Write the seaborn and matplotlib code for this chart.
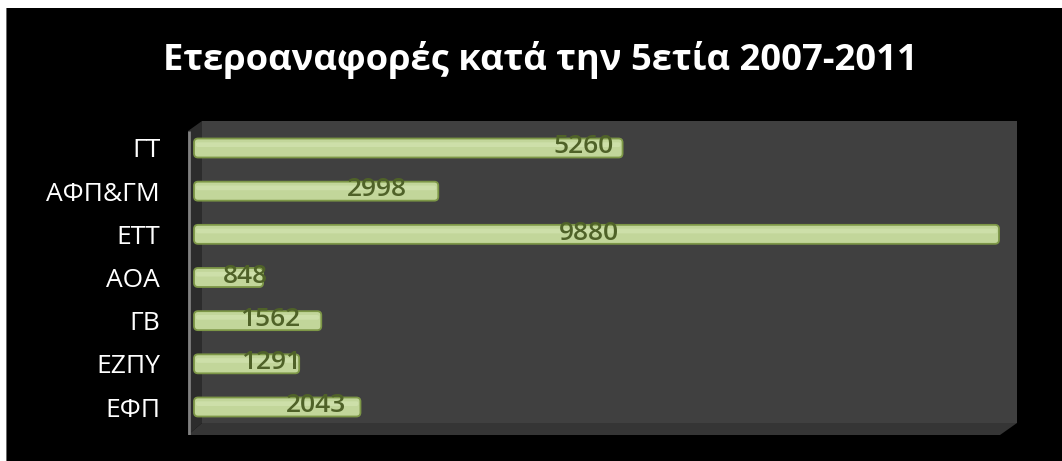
import numpy as np
import pandas as pd
import seaborn as sns
import matplotlib.pyplot as plt
from matplotlib.patches import Rectangle, Polygon, FancyBboxPatch

# Data
categories = ['ΓΤ', 'ΑΦΠ&ΓΜ', 'ΕΤΤ', 'ΑΟΑ', 'ΓΒ', 'ΕΖΠΥ', 'ΕΦΠ']
values = [5260, 2998, 9880, 848, 1562, 1291, 2043]
title = 'Ετεροαναφορές κατά την 5ετία 2007-2011'

df = pd.DataFrame({'cat': categories, 'val': values})

sns.set_style('dark')
plt.rcParams['font.family'] = ['Open Sans', 'DejaVu Sans']

W, H = 1062, 461
fig = plt.figure(figsize=(W / 100, H / 100), dpi=100)
fig.patch.set_facecolor('white')

# black background panel with thin white margin top/left
fig.patches.append(Rectangle((6 / W, 0), 1 - 6 / W, 1 - 8 / H, transform=fig.transFigure,
                             facecolor='black', edgecolor='none', zorder=-2))
fig.patches.append(Rectangle((6 / W, 0), 1.2 / W, 1 - 8 / H, transform=fig.transFigure,
                             facecolor='#6a6a6a', edgecolor='none', zorder=-1))

# axes box in pixels
x0, x1, ytop, ybot = 188, 1017, 121, 435
ax = fig.add_axes([x0 / W, (H - ybot) / H, (x1 - x0) / W, (ybot - ytop) / H])
ax.set_zorder(1)
ax.set_facecolor('black')


def px(x, y):
    return ((x - x0) / (x1 - x0), (ybot - y) / (ybot - ytop))


# fake 3D walls
back = Polygon([px(202, 121), px(1017, 121), px(1017, 423), px(202, 423)], closed=True,
               transform=ax.transAxes, facecolor='#404040', edgecolor='none', zorder=0)
side = Polygon([px(188, 131), px(202, 121), px(202, 423), px(188, 435)], closed=True,
               transform=ax.transAxes, facecolor='#2c2c2c', edgecolor='none', zorder=0)
floor = Polygon([px(188, 435), px(202, 423), px(1017, 423), px(1000, 435)], closed=True,
                transform=ax.transAxes, facecolor='#353535', edgecolor='none', zorder=0)
for p in (back, side, floor):
    ax.add_patch(p)
ax.plot([0.0015, 0.0015], [0, px(188, 131)[1]], transform=ax.transAxes,
        color='#808080', lw=2, zorder=1, solid_capstyle='butt')

sns.barplot(data=df, x='val', y='cat', orient='h', width=0.44, color='#c4d79b',
            saturation=1, ax=ax, zorder=3)

scale = (999 - 194) / 9880
ax.set_xlim((188 - 194) / scale, (1017 - 194) / scale)
ax.set_ylim(6 + (435 - 407) / 43.17, -(148 - 121) / 43.17)

# swap the flat bars for rounded ones with the same bounds
rx, ry = 4 / scale, 4 / 43.17
for bar in list(ax.patches):
    if not isinstance(bar, Rectangle) or bar.get_width() <= 0:
        continue
    bx, by, bw, bh = bar.get_x(), bar.get_y(), bar.get_width(), bar.get_height()
    bar.set_visible(False)
    ax.add_patch(FancyBboxPatch((bx, by), bw, bh,
                                boxstyle=f'round,pad=0,rounding_size={rx}',
                                mutation_aspect=ry / rx, facecolor='#c2d69a',
                                edgecolor='#7d9747', linewidth=1.3, zorder=3))
    ax.add_patch(FancyBboxPatch((bx + rx * 0.5, by + bh * 0.2), bw - rx, bh * 0.25,
                                boxstyle=f'round,pad=0,rounding_size={rx * 0.5}',
                                mutation_aspect=ry / rx, facecolor='#cddfa9',
                                edgecolor='none', zorder=3))

# value labels (positions follow the original's 3D placement)
label_frac = [0.91, 0.75, 0.49, 0.74, 0.60, 0.73, 0.73]
for i, (v, f) in enumerate(zip(values, label_frac)):
    ax.text(v * f, i - 0.03, str(v), ha='center', va='center', fontsize=19,
            fontweight='semibold', color='#4f6228', zorder=4)

ax.set_xlabel('')
ax.set_ylabel('')
ax.set_xticks([])
ax.tick_params(axis='y', length=0, pad=20, labelsize=19, labelcolor='white')
for s in ax.spines.values():
    s.set_visible(False)
ax.grid(False)

fig.text(540 / W, 1 - 60 / H, title, ha='center', va='center', fontsize=26.2,
         fontweight='bold', color='white')

fig.savefig('out.png', dpi=100, facecolor=fig.get_facecolor())
